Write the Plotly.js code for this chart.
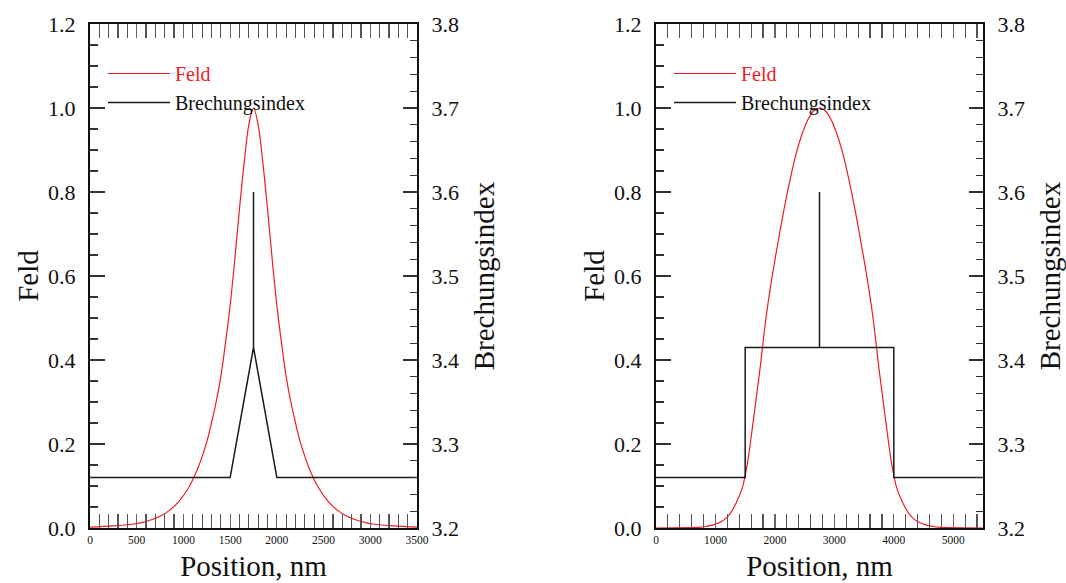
<!DOCTYPE html>
<html>
<head>
<meta charset="utf-8">
<script src="https://cdn.plot.ly/plotly-3.0.1.min.js"></script>
<style>html,body{margin:0;padding:0;background:#fff;}#chart{width:1066px;height:583px;}</style>
</head>
<body>
<div id="chart"></div>
<script>
// ---- Left panel: graded-index (triangle) core ----
const leftFieldPos = [0,250,450,550,650,750,850,950,1050,1100,1150,1200,1250,1300,1350,1400,1450,1500,1550,1600,1650,1700,1750,
  1800,1850,1900,1950,2000,2050,2100,2150,2200,2250,2300,2350,2400,2450,2550,2650,2750,2850,2950,3050,3250,3500];
const leftField = [0.002,0.005,0.009,0.013,0.019,0.028,0.042,0.063,0.094,0.115,0.14,0.17,0.205,0.25,0.3,0.36,0.44,0.53,0.64,0.76,0.87,0.96,1.0,
  0.96,0.87,0.76,0.64,0.53,0.44,0.36,0.3,0.25,0.205,0.17,0.14,0.115,0.094,0.063,0.042,0.028,0.019,0.013,0.009,0.005,0.002];
const leftIndexPos = [0,1500,1750,1750,1750,2000,3500];
const leftIndex = [3.26,3.26,3.415,3.6,3.415,3.26,3.26];

// ---- Right panel: step-index core ----
const rightFieldPos = [0,750,850,950,1050,1150,1250,1350,1450,1500,1550,1650,1750,1850,1950,2050,2150,2250,2350,2450,2550,2650,2750,
  2850,2950,3050,3150,3250,3350,3450,3550,3650,3750,3850,3950,4000,4050,4150,4250,4350,4450,4550,4650,4750,5500];
const rightField = [0,0.002,0.004,0.007,0.012,0.02,0.035,0.06,0.095,0.125,0.165,0.27,0.38,0.5,0.596,0.678,0.756,0.826,0.887,0.935,0.971,0.993,1.0,
  0.993,0.971,0.935,0.887,0.826,0.756,0.678,0.596,0.5,0.38,0.27,0.165,0.125,0.095,0.06,0.035,0.02,0.012,0.007,0.004,0.002,0];
const rightIndexPos = [0,1500,1500,2750,2750,2750,4000,4000,5500];
const rightIndex = [3.26,3.26,3.415,3.415,3.6,3.415,3.415,3.26,3.26];

const seriesNames = ['Feld', 'Brechungsindex'];
const xTitle = 'Position, nm';
const yTitle = 'Feld';
const y2Title = 'Brechungsindex';

const RED = 'rgb(237,28,36)';
const BLACK = '#1a1a1a';
const FONT = 'Liberation Serif, Times New Roman, serif';
const TXT = '#111';

const traces = [
  {x: leftFieldPos, y: leftField, xaxis: 'x', yaxis: 'y', name: '<span style="color:' + RED + '">' + seriesNames[0] + '</span>',
   mode: 'lines', line: {color: RED, width: 1.2, shape: 'spline', smoothing: 1}, legend: 'legend'},
  {x: leftIndexPos, y: leftIndex, xaxis: 'x', yaxis: 'y2', name: seriesNames[1],
   mode: 'lines', line: {color: BLACK, width: 1.5}, legend: 'legend'},
  {x: rightFieldPos, y: rightField, xaxis: 'x2', yaxis: 'y3', name: '<span style="color:' + RED + '">' + seriesNames[0] + '</span>',
   mode: 'lines', line: {color: RED, width: 1.2, shape: 'spline', smoothing: 1}, legend: 'legend2'},
  {x: rightIndexPos, y: rightIndex, xaxis: 'x2', yaxis: 'y4', name: seriesNames[1],
   mode: 'lines', line: {color: BLACK, width: 1.5}, legend: 'legend2'}
];

const W = 1066, H = 583;
const yDom = [1 - 528 / H, 1 - 24 / H];
const xDomL = [90 / W, 417 / W];
const xDomR = [656 / W, 983 / W];

function xAxis(range, dtick, minorDtick, domain, anchor) {
  return {
    domain: domain, anchor: anchor, range: range, dtick: dtick, tick0: 0,
    showline: true, linecolor: '#111', linewidth: 2, mirror: 'allticks',
    ticks: 'inside', ticklen: 14, tickwidth: 1.2, tickcolor: '#666',
    minor: {dtick: minorDtick, ticks: 'inside', ticklen: 7, tickwidth: 1.2, tickcolor: '#555'},
    showgrid: false, zeroline: false,
    tickfont: {family: FONT, size: 11.5, color: TXT},
    title: {text: xTitle, font: {family: FONT, size: 29, color: TXT}, standoff: 11},
    automargin: false
  };
}
function yLeft(anchor, domainY) {
  return {
    domain: domainY, anchor: anchor, range: [0, 1.2], dtick: 0.2, tick0: 0, tickformat: '.1f',
    showline: true, linecolor: '#111', linewidth: 2,
    ticks: 'inside', ticklen: 15, tickwidth: 1.2, tickcolor: '#333',
    minor: {dtick: 0.05, ticks: 'inside', ticklen: 8, tickwidth: 1.2, tickcolor: '#333'},
    showgrid: false, zeroline: false,
    tickfont: {family: FONT, size: 22, color: TXT}, ticklabelstandoff: 8,
    title: {text: yTitle, font: {family: FONT, size: 29, color: TXT}, standoff: 1},
    automargin: false
  };
}
function yRight(anchor, overlay) {
  return {
    overlaying: overlay, anchor: anchor, side: 'right', range: [3.2, 3.8], dtick: 0.1, tick0: 3.2, tickformat: '.1f',
    showline: true, linecolor: '#111', linewidth: 2,
    ticks: 'inside', ticklen: 14, tickwidth: 1.2, tickcolor: '#333',
    minor: {dtick: 0.02, ticks: 'inside', ticklen: 7, tickwidth: 1.2, tickcolor: '#333'},
    showgrid: false, zeroline: false,
    tickfont: {family: FONT, size: 22, color: TXT}, ticklabelstandoff: 8,
    title: {text: y2Title, font: {family: FONT, size: 29, color: TXT}, standoff: 16},
    automargin: false
  };
}

const legendBase = {
  font: {family: FONT, size: 20, color: TXT}, bgcolor: 'rgba(0,0,0,0)', borderwidth: 0,
  xanchor: 'left', yanchor: 'top', itemwidth: 62, tracegroupgap: 0, traceorder: 'normal'
};

const layout = {
  width: W, height: H,
  margin: {l: 0, r: 0, t: 0, b: 0},
  paper_bgcolor: '#fff', plot_bgcolor: '#fff',
  font: {family: FONT, color: TXT},
  showlegend: true,
  xaxis: xAxis([0, 3500], 500, 100, xDomL, 'y'),
  yaxis: yLeft('x', yDom),
  yaxis2: yRight('x', 'y'),
  xaxis2: xAxis([0, 5500], 1000, 200, xDomR, 'y3'),
  yaxis3: yLeft('x2', yDom),
  yaxis4: yRight('x2', 'y3'),
  legend: Object.assign({}, legendBase, {x: 103 / W, y: 1 - 54 / H}),
  legend2: Object.assign({}, legendBase, {x: 669 / W, y: 1 - 54 / H})
};

Plotly.newPlot('chart', traces, layout, {displayModeBar: false, staticPlot: true});
</script>
</body>
</html>
